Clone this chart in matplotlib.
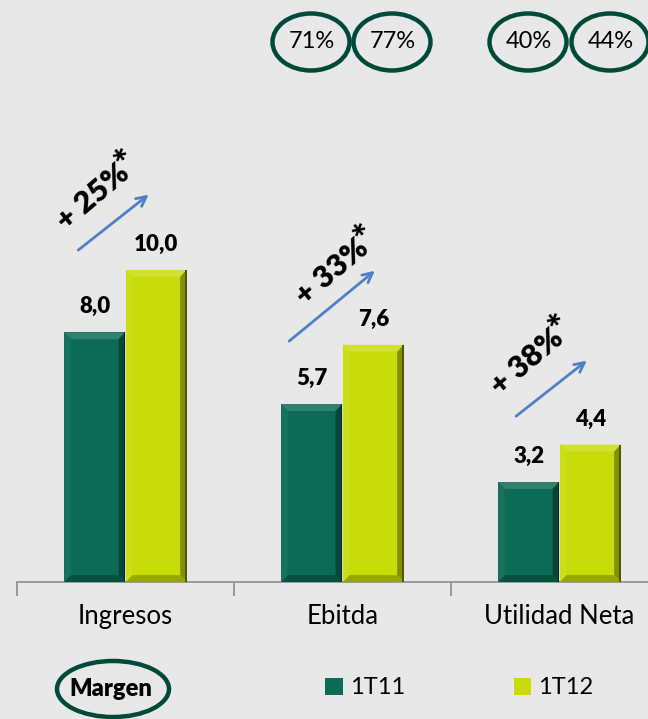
import numpy as np
import matplotlib.pyplot as plt
import matplotlib.colors as mcolors
from matplotlib.patches import Ellipse, Polygon

plt.rcParams['font.family'] = ['Lato', 'DejaVu Sans']

categories = ['Ingresos', 'Ebitda', 'Utilidad Neta']
series = ['1T11', '1T12']
v_1t11 = [8.0, 5.7, 3.2]
v_1t12 = [10.0, 7.6, 4.4]
growth = ['25%', '33%', '38%']
margins = ['71%', '77%', '40%', '44%']

bg = '#e8e8e8'
c_dark = '#0b6b55'
c_yellow = '#c8dc0a'
ring = '#004a3a'
arrow_c = '#4f81c4'

W, H = 648, 719
fig = plt.figure(figsize=(W / 100, H / 100), dpi=100, facecolor=bg)
# axes spans 3 categories of 217 px starting at x=17, baseline at y=582
ax = fig.add_axes([17 / W, (H - 582) / H, 651 / W, 582 / H])
ax.set_facecolor(bg)
ax.set_xlim(-0.5, 2.5)
ax.set_ylim(0, 18.65)

x = np.arange(len(categories))
bw = 0.28
off = 0.142


def shade(c, f):
    r = np.array(mcolors.to_rgb(c))
    if f > 0:
        r = r + (1 - r) * f
    else:
        r = r * (1 + f)
    return tuple(np.clip(r, 0, 1))


def bevel(x0, x1, y1, color):
    # pseudo 3D border like the original bars
    dx, dy = 0.03, 0.22
    y0 = 0
    sides = [
        ([(x0, y1), (x1, y1), (x1 - dx, y1 - dy), (x0 + dx, y1 - dy)], 0.15),
        ([(x0, y0), (x0, y1), (x0 + dx, y1 - dy), (x0 + dx, y0 + dy)], 0.05),
        ([(x1, y0), (x1, y1), (x1 - dx, y1 - dy), (x1 - dx, y0 + dy)], -0.35),
        ([(x0, y0), (x1, y0), (x1 - dx, y0 + dy), (x0 + dx, y0 + dy)], -0.25),
    ]
    for pts, f in sides:
        ax.add_patch(Polygon(pts, closed=True, facecolor=shade(color, f),
                             edgecolor='none', zorder=3))
    # thin dark edge on the right
    ax.add_patch(Polygon([(x1 - 0.006, y0), (x1, y0), (x1, y1), (x1 - 0.006, y1)],
                         closed=True, facecolor=shade(color, -0.6),
                         edgecolor='none', zorder=3))


b1 = ax.bar(x - off, v_1t11, bw, color=c_dark, label=series[0], zorder=2)
b2 = ax.bar(x + off, v_1t12, bw, color=c_yellow, label=series[1], zorder=2)
for bars, col in [(b1, c_dark), (b2, c_yellow)]:
    for r in bars:
        bevel(r.get_x(), r.get_x() + r.get_width(), r.get_height(), col)
        ax.text(r.get_x() + r.get_width() / 2, r.get_height() + 0.48,
                f'{r.get_height():.1f}'.replace('.', ','), ha='center',
                va='bottom', fontsize=16, fontweight='heavy', color='black')

# growth arrows and labels
arrows = [((-0.228, 10.58), (0.117, 12.47)),
          ((0.744, 7.66), (1.159, 10.03)),
          ((1.790, 5.26), (2.136, 7.15))]
tpos = [(-0.15, 12.35), (0.95, 9.95), (1.85, 7.05)]
for (s, e), (tx, ty), g in zip(arrows, tpos, growth):
    ax.annotate('', xy=e, xytext=s,
                arrowprops=dict(arrowstyle='->,head_length=0.7,head_width=0.35',
                                color=arrow_c, lw=2))
    ax.text(tx, ty, '+ ' + g, rotation=40,
            rotation_mode='anchor', ha='center', va='center',
            fontsize=22, fontweight='heavy', color='black')
    ax.annotate('*', xy=(tx, ty), xytext=(24, 25), textcoords='offset points',
                rotation=40, rotation_mode='anchor', ha='center', va='center',
                fontsize=27, fontweight='heavy', color='black')

ax.set_xticks([-0.5, 0.5, 1.5, 2.5])
ax.set_xticklabels([])
ax.set_xticks(x, minor=True)
ax.set_xticklabels(categories, minor=True, fontsize=18.5)
ax.tick_params(axis='x', which='major', length=10, color='#8c8c8c', width=1.2)
ax.tick_params(axis='x', which='minor', length=0, pad=16)
ax.set_yticks([])
for sp in ['top', 'right', 'left']:
    ax.spines[sp].set_visible(False)
ax.spines['bottom'].set_color('#8c8c8c')
ax.spines['bottom'].set_linewidth(1.2)

# margin rings at the top
mx = [311, 392, 528, 610]
for m, px in zip(margins, mx):
    fig.add_artist(Ellipse((px / W, 1 - 42 / H), 77 / W, 57 / H,
                           transform=fig.transFigure, facecolor='none',
                           edgecolor=ring, lw=3.2))
    fig.text(px / W + 0.002, 1 - 42 / H, m, ha='center', va='center',
             fontsize=17, color='black')

fig.add_artist(Ellipse((113 / W, 1 - 689 / H), 112 / W, 56 / H,
                       transform=fig.transFigure, facecolor='none',
                       edgecolor=ring, lw=3.2))
fig.text(111 / W, 1 - 689 / H, 'Margen', ha='center', va='center',
         fontsize=17, fontweight='heavy', color='black')

fig.legend(handles=[b1, b2], loc='center left', ncol=2, frameon=False,
           bbox_to_anchor=(325 / W, 1 - 688 / H), fontsize=17,
           handlelength=0.75, handleheight=0.75, handletextpad=0.3,
           columnspacing=4.6, borderaxespad=0, borderpad=0)

fig.savefig('out.png', dpi=100, facecolor=bg)
